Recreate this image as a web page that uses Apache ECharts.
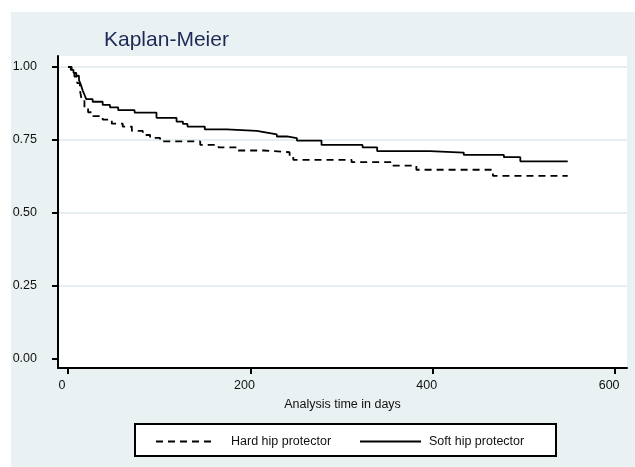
<!DOCTYPE html>
<html>
<head>
<meta charset="utf-8">
<script src="https://cdn.jsdelivr.net/npm/echarts@6.0.0/dist/echarts.min.js"></script>
<style>
html,body{margin:0;padding:0;background:#ffffff;}
#chart{width:635px;height:467px;}
</style>
</head>
<body>
<div id="chart"></div>
<script>
// ---- data (time in days, survival probability) ----
var hardTimes = [0, 4, 7, 10, 13, 15, 18, 22, 26, 38, 48, 60, 70, 82, 90, 101, 145, 165, 185, 215, 243, 247, 311, 355, 382, 466, 548];
var hardSurv  = [1.0, 0.985, 0.967, 0.945, 0.921, 0.887, 0.859, 0.845, 0.832, 0.82, 0.806, 0.796, 0.781, 0.767, 0.757, 0.745, 0.733, 0.725, 0.714, 0.708, 0.696, 0.682, 0.674, 0.662, 0.648, 0.627, 0.627];

var softTimes = [0, 3, 6, 9, 12, 14, 16, 18, 20, 27, 38, 46, 55, 73, 97, 119, 126, 131, 150, 174, 207, 218, 229, 240, 251, 278, 323, 339, 397, 434, 478, 496, 548];
var softSurv  = [1.0, 0.99, 0.98, 0.97, 0.955, 0.94, 0.92, 0.905, 0.89, 0.881, 0.87, 0.862, 0.852, 0.844, 0.826, 0.813, 0.805, 0.796, 0.786, 0.781, 0.775, 0.769, 0.762, 0.756, 0.748, 0.733, 0.725, 0.712, 0.707, 0.699, 0.691, 0.677, 0.677];

var seriesNames = ['Hard hip protector', 'Soft hip protector'];
var xTicks = [0, 200, 400, 600];
var yTicks = [0, 0.25, 0.5, 0.75, 1.0];
var titleText = 'Kaplan-Meier';
var xTitle = 'Analysis time in days';

function pairs(t, s) { return t.map(function (v, i) { return [v, s[i]]; }); }

var chart = echarts.init(document.getElementById('chart'), null, { renderer: 'canvas' });
var FONT = '"Liberation Sans", Arial, Helvetica, sans-serif';

chart.setOption({
  animation: false,
  backgroundColor: '#ffffff',
  graphic: [
    { type: 'rect', z: -10, shape: { x: 11, y: 12, width: 624, height: 455 }, style: { fill: '#eaf1f3' } },
    { type: 'rect', z: -5, shape: { x: 135, y: 424, width: 421, height: 32 }, style: { fill: '#ffffff', stroke: '#000000', lineWidth: 2 } }
  ],
  title: {
    text: titleText,
    left: 104, top: 30, padding: 0,
    textStyle: { fontFamily: FONT, fontSize: 21, fontWeight: 'normal', color: '#1c2a55' }
  },
  legend: [
    {
      data: [seriesNames[0]], left: 155, top: 435, padding: 0,
      itemWidth: 60, itemHeight: 14,
      itemStyle: { opacity: 0 },
      textStyle: { fontFamily: FONT, fontSize: 12.5, color: '#111', padding: [0, 0, 5, 10] }
    },
    {
      data: [seriesNames[1]], left: 359, top: 435, padding: 0,
      itemWidth: 61, itemHeight: 14,
      itemStyle: { opacity: 0 },
      textStyle: { fontFamily: FONT, fontSize: 12.5, color: '#111', padding: [0, 0, 0, 3] }
    }
  ],
  grid: { left: 58, right: 8, top: 56, bottom: 99, show: true, backgroundColor: '#ffffff', borderWidth: 0, containLabel: false },
  xAxis: {
    type: 'value', min: -11, max: 613,
    name: xTitle, nameLocation: 'middle', nameGap: 30,
    nameTextStyle: { fontFamily: FONT, fontSize: 12.5, color: '#111' },
    axisLine: { show: true, onZero: false, lineStyle: { color: '#000', width: 2 } },
    axisTick: { show: true, customValues: xTicks, length: 6, lineStyle: { color: '#000', width: 2 } },
    axisLabel: { customValues: xTicks, margin: 11, fontFamily: FONT, fontSize: 12.5, color: '#111', padding: [0, 12, 0, 0] },
    splitLine: { show: false }
  },
  yAxis: {
    type: 'value', min: -0.0308, max: 1.0376,
    axisLine: { show: true, onZero: false, lineStyle: { color: '#000', width: 2 } },
    axisTick: { show: true, customValues: yTicks, length: 6, lineStyle: { color: '#000', width: 2 } },
    axisLabel: { customValues: yTicks, margin: 21, fontFamily: FONT, fontSize: 12.5, color: '#111',
      formatter: function (v) { return v.toFixed(2); } },
    splitLine: { show: false }
  },
  series: [
    {
      name: seriesNames[0], type: 'line', step: 'end', symbol: 'none',
      data: pairs(hardTimes, hardSurv),
      lineStyle: { color: '#000', width: 1.8, type: [7, 5] },
      itemStyle: { color: '#000' },
      markLine: {
        silent: true, symbol: 'none', label: { show: false }, z: 0,
        lineStyle: { color: '#e6eef1', width: 2, type: 'solid' },
        data: yTicks.filter(function (v) { return v > 0; }).map(function (v) { return { yAxis: v }; })
      }
    },
    {
      name: seriesNames[1], type: 'line', step: 'end', symbol: 'none',
      data: pairs(softTimes, softSurv),
      lineStyle: { color: '#000', width: 1.8, type: 'solid' },
      itemStyle: { color: '#000' }
    }
  ]
});
</script>
</body>
</html>
